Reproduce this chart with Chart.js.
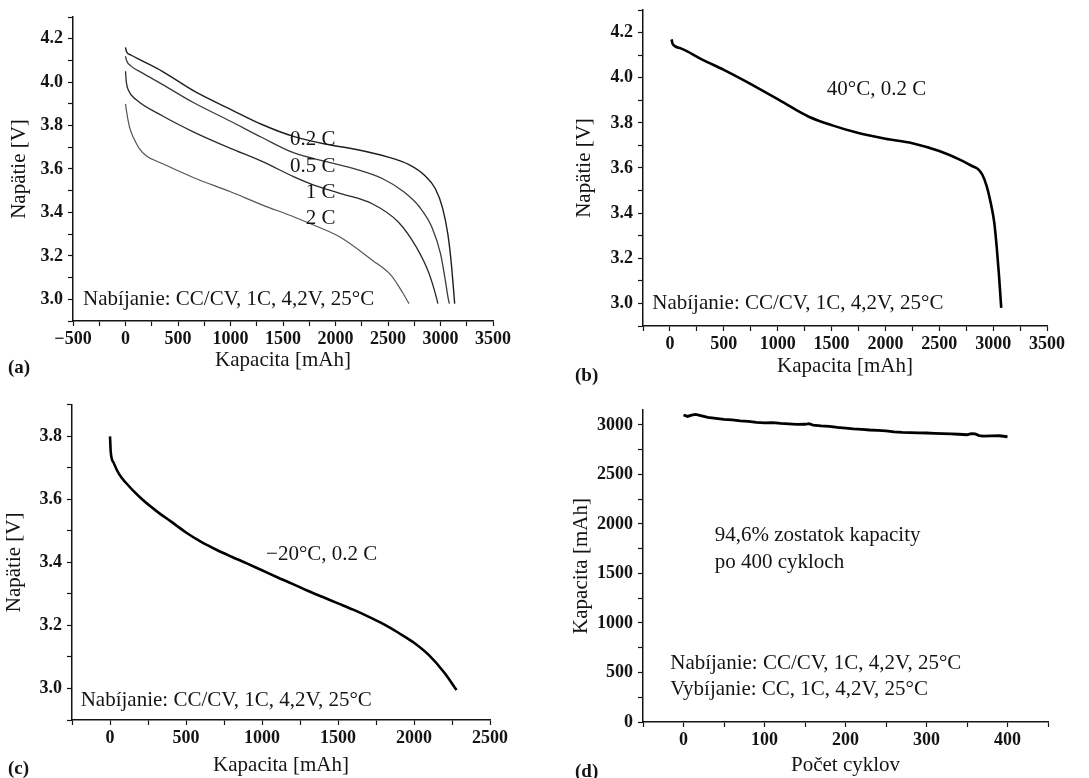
<!DOCTYPE html>
<html>
<head>
<meta charset="utf-8">
<script src="https://cdn.jsdelivr.net/npm/chart.js@4.4.1/dist/chart.umd.min.js"></script>
<style>
  body { margin: 0; background: #fff; width: 1089px; height: 778px; overflow: hidden; position: relative; }
  canvas { position: absolute; }
</style>
</head>
<body>
<canvas id="chartA" width="545" height="400" style="left:0;top:-10px"></canvas>
<canvas id="chartB" width="544" height="400" style="left:545px;top:-10px"></canvas>
<canvas id="chartC" width="545" height="389" style="left:0;top:389px"></canvas>
<canvas id="chartD" width="544" height="389" style="left:545px;top:389px"></canvas>
<script>
// (a) vybijacie krivky pri roznych prudoch, 25 C
const capA02 = [0, 10, 50, 150, 350, 650, 1000, 1300, 1600, 1900, 2200, 2500, 2700, 2850, 2950, 3020, 3070, 3100, 3120, 3135];
const voltA02 = [4.16, 4.14, 4.125, 4.10, 4.05, 3.96, 3.875, 3.805, 3.75, 3.715, 3.69, 3.655, 3.62, 3.57, 3.51, 3.42, 3.30, 3.18, 3.07, 2.98];
const capA05 = [0, 10, 50, 150, 350, 650, 1000, 1300, 1600, 1900, 2200, 2450, 2650, 2800, 2920, 3000, 3045, 3075, 3085];
const voltA05 = [4.12, 4.10, 4.075, 4.045, 3.99, 3.905, 3.82, 3.745, 3.675, 3.635, 3.598, 3.555, 3.495, 3.425, 3.33, 3.21, 3.09, 3.00, 2.98];
const capA1 = [0, 8, 30, 100, 350, 650, 1000, 1300, 1600, 1800, 2050, 2350, 2600, 2770, 2890, 2960, 2975];
const voltA1 = [4.05, 4.00, 3.96, 3.92, 3.845, 3.77, 3.695, 3.635, 3.565, 3.525, 3.487, 3.44, 3.355, 3.24, 3.12, 3.01, 2.98];
const capA2 = [0, 15, 40, 80, 130, 200, 350, 650, 1000, 1300, 1600, 1750, 2050, 2350, 2530, 2640, 2700];
const voltA2 = [3.90, 3.85, 3.79, 3.74, 3.695, 3.66, 3.625, 3.56, 3.495, 3.435, 3.38, 3.35, 3.285, 3.18, 3.11, 3.03, 2.98];

// (b) 40 C, 0.2 C
const capB = [15, 25, 100, 300, 500, 700, 1000, 1200, 1300, 1500, 1750, 2000, 2250, 2500, 2700, 2800, 2860, 2900, 2940, 2980, 3010, 3035, 3055, 3068, 3075];
const voltB = [4.17, 4.15, 4.13, 4.08, 4.035, 3.985, 3.905, 3.85, 3.825, 3.79, 3.755, 3.73, 3.71, 3.675, 3.635, 3.61, 3.595, 3.57, 3.52, 3.44, 3.36, 3.24, 3.12, 3.03, 2.98];

// (c) -20 C, 0.2 C
const capC = [0, 5, 25, 60, 100, 200, 300, 400, 500, 600, 700, 800, 900, 1000, 1100, 1200, 1300, 1400, 1500, 1600, 1700, 1800, 1900, 2000, 2100, 2200, 2280];
const voltC = [3.80, 3.75, 3.715, 3.68, 3.655, 3.605, 3.565, 3.53, 3.495, 3.465, 3.44, 3.418, 3.397, 3.375, 3.353, 3.332, 3.31, 3.29, 3.27, 3.25, 3.228, 3.204, 3.176, 3.145, 3.105, 3.05, 2.995];

// (d) cyklovanie
const cyclesD = [0, 5, 10, 15, 20, 30, 40, 50, 60, 70, 80, 90, 100, 110, 120, 130, 140, 150, 155, 160, 170, 180, 190, 200, 210, 220, 230, 240, 250, 260, 270, 280, 290, 300, 310, 320, 330, 340, 350, 355, 360, 365, 370, 380, 390, 395, 400];
const capD = [3100, 3085, 3098, 3105, 3096, 3075, 3066, 3055, 3050, 3040, 3035, 3025, 3020, 3022, 3015, 3010, 3005, 3006, 3012, 2998, 2990, 2985, 2975, 2968, 2960, 2955, 2948, 2945, 2940, 2930, 2925, 2922, 2920, 2918, 2915, 2912, 2908, 2905, 2900, 2912, 2908, 2892, 2887, 2888, 2890, 2885, 2880];

const xRangeA = [-500, 3500], yRangeA = [2.9, 4.3];
const xRangeB = [-250, 3500], yRangeB = [2.9, 4.3];
const xRangeC = [-250, 2500], yRangeC = [2.9, 3.9];
const xRangeD = [-50, 450], yRangeD = [0, 3150];

const INK = '#141414';
const SERIF = '"Liberation Serif", "Times New Roman", serif';

function toPoints(xs, ys) {
  return xs.map((x, i) => ({ x: x, y: ys[i] }));
}

function fmtNum(v, dec) {
  const s = Math.abs(v).toFixed(dec);
  return v < -1e-9 ? '\u2212' + s : s;
}

function isMultiple(v, step) {
  return Math.abs(Math.round(v / step) * step - v) < step * 1e-6;
}

const textPlugin = {
  id: 'panelText',
  afterDraw(chart, args, opts) {
    const ctx = chart.ctx;
    const xs = chart.scales.x, ys = chart.scales.y;
    ctx.save();
    ctx.fillStyle = INK;
    ctx.textBaseline = 'middle';
    (opts.notes || []).forEach(n => {
      ctx.font = '21px ' + SERIF;
      ctx.textAlign = n.align || 'left';
      ctx.fillText(n.text, xs.getPixelForValue(n.x), ys.getPixelForValue(n.y));
    });
    if (opts.letter) {
      ctx.font = 'bold 19px ' + SERIF;
      ctx.textAlign = 'left';
      ctx.fillText(opts.letter.text, opts.letter.x, opts.letter.y);
    }
    ctx.restore();
  }
};

function axis(range, step, labelStep, dec, titleText, titlePad, fitSize, horizontal) {
  return {
    type: 'linear',
    min: range[0],
    max: range[1],
    ticks: {
      stepSize: step,
      autoSkip: false,
      maxRotation: 0,
      padding: horizontal ? 3 : 5,
      color: INK,
      font: { family: SERIF, size: 18, weight: 'bold' },
      callback: v => isMultiple(v, labelStep) ? fmtNum(v, dec) : ''
    },
    // tick marks on every step inside the range (major + minor)
    afterBuildTicks: a => {
      const out = [];
      const first = Math.ceil(range[0] / step - 1e-6) * step;
      for (let k = 0; first + k * step <= range[1] + step * 1e-6; k++) {
        out.push({ value: +(first + k * step).toFixed(6) });
      }
      a.ticks = out;
    },
    grid: { drawOnChartArea: false, drawTicks: true, tickLength: 5, tickColor: INK, tickWidth: 1.2 },
    border: { display: true, color: INK, width: 1.5 },
    title: {
      display: true,
      text: titleText,
      color: INK,
      font: { family: SERIF, size: 21 },
      padding: horizontal ? { top: 0, bottom: titlePad } : { top: titlePad, bottom: 0 }
    },
    afterFit: s => {
      if (horizontal) s.height = fitSize; else s.width = fitSize;
    }
  };
}

function lineSet(xs, ys, width, color) {
  return {
    data: toPoints(xs, ys),
    showLine: true,
    borderColor: color,
    borderWidth: width,
    pointRadius: 0,
    cubicInterpolationMode: 'monotone',
    fill: false
  };
}

function buildPanel(id, datasets, p) {
  return new Chart(document.getElementById(id), {
    type: 'scatter',
    data: { datasets: datasets },
    options: {
      responsive: false,
      animation: false,
      layout: { padding: { left: 0, top: p.top, right: p.right, bottom: 0 } },
      plugins: {
        legend: { display: false },
        tooltip: { enabled: false },
        panelText: { notes: p.notes, letter: p.letter }
      },
      scales: {
        x: axis(p.xRange, p.xStep, p.xLabelStep, 0, p.xTitle, p.xTitlePad, p.bottom, true),
        y: axis(p.yRange, p.yStep, p.yLabelStep, p.yDec, p.yTitle, p.yTitlePad, p.left, false)
      }
    },
    plugins: [textPlugin]
  });
}

const noteCharge = 'Nabíjanie: CC/CV, 1C, 4,2V, 25°C';

buildPanel('chartA', [
  lineSet(capA02, voltA02, 1.4, '#1e1e1e'),
  lineSet(capA05, voltA05, 1.3, '#3a3a3a'),
  lineSet(capA1, voltA1, 1.3, '#2a2a2a'),
  lineSet(capA2, voltA2, 1.2, '#555555')
], {
  left: 73, top: 27, right: 52, bottom: 69,
  xRange: xRangeA, xStep: 250, xLabelStep: 500, xTitle: 'Kapacita [mAh]', xTitlePad: 17,
  yRange: yRangeA, yStep: 0.1, yLabelStep: 0.2, yDec: 1, yTitle: 'Napätie [V]', yTitlePad: 7,
  notes: [
    { text: noteCharge, x: -404, y: 3.0 },
    { text: '0.2 C', x: 2000, y: 3.735, align: 'right' },
    { text: '0.5 C', x: 2000, y: 3.612, align: 'right' },
    { text: '1 C', x: 2000, y: 3.49, align: 'right' },
    { text: '2 C', x: 2000, y: 3.37, align: 'right' }
  ],
  letter: { text: '(a)', x: 8, y: 378 }
});

buildPanel('chartB', [
  lineSet(capB, voltB, 2.6, '#000')
], {
  left: 98, top: 20, right: 42, bottom: 64,
  xRange: xRangeB, xStep: 250, xLabelStep: 500, xTitle: 'Kapacita [mAh]', xTitlePad: 11,
  yRange: yRangeB, yStep: 0.1, yLabelStep: 0.2, yDec: 1, yTitle: 'Napätie [V]', yTitlePad: 27,
  notes: [
    { text: '40°C, 0.2 C', x: 1456, y: 3.95 },
    { text: noteCharge, x: -164, y: 3.0 }
  ],
  letter: { text: '(b)', x: 30, y: 386 }
});

buildPanel('chartC', [
  lineSet(capC, voltC, 2.6, '#000')
], {
  left: 72, top: 13, right: 55, bottom: 58,
  xRange: xRangeC, xStep: 250, xLabelStep: 500, xTitle: 'Kapacita [mAh]', xTitlePad: 0,
  yRange: yRangeC, yStep: 0.1, yLabelStep: 0.2, yDec: 1, yTitle: 'Napätie [V]', yTitlePad: 2,
  notes: [
    { text: '\u221220°C, 0.2 C', x: 1027, y: 3.426 },
    { text: noteCharge, x: -193, y: 2.963 }
  ],
  letter: { text: '(c)', x: 8, y: 380 }
});

const dSet = lineSet(cyclesD, capD, 2.8, '#000');
dSet.cubicInterpolationMode = 'default';
buildPanel('chartD', [dSet], {
  left: 98, top: 21, right: 41, bottom: 56,
  xRange: xRangeD, xStep: 50, xLabelStep: 100, xTitle: 'Počet cyklov', xTitlePad: 0,
  yRange: yRangeD, yStep: 250, yLabelStep: 500, yDec: 0, yTitle: 'Kapacita [mAh]', yTitlePad: 24,
  notes: [
    { text: '94,6% zostatok kapacity', x: 38.5, y: 1880 },
    { text: 'po 400 cykloch', x: 38.5, y: 1612 },
    { text: noteCharge, x: -16.4, y: 592 },
    { text: 'Vybíjanie: CC, 1C, 4,2V, 25°C', x: -16.4, y: 324 }
  ],
  letter: { text: '(d)', x: 30, y: 383 }
});
</script>
</body>
</html>
